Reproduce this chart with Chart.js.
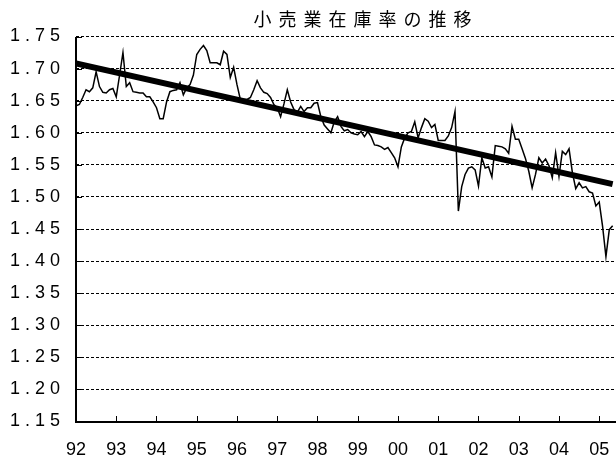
<!DOCTYPE html>
<html>
<head>
<meta charset="utf-8">
<script src="https://cdn.jsdelivr.net/npm/chart.js@4/dist/chart.umd.min.js"></script>
<style>
  html, body { margin: 0; padding: 0; background: #fff; }
  canvas { display: block; }
</style>
</head>
<body>
<canvas id="chart" width="616" height="462"></canvas>
<script>
// 小売業在庫率 (monthly, Jan 1992 - May 2005)
const titleText = '小売業在庫率の推移';
const yearLabels = ['92', '93', '94', '95', '96', '97', '98', '99', '00', '01', '02', '03', '04', '05'];
const yTickValues = [1.15, 1.20, 1.25, 1.30, 1.35, 1.40, 1.45, 1.50, 1.55, 1.60, 1.65, 1.70, 1.75];
const ratio = [
  1.642, 1.644, 1.655, 1.667, 1.664, 1.670, 1.695, 1.672, 1.663, 1.662, 1.667, 1.669, // 92
  1.656, 1.690, 1.725, 1.672, 1.678, 1.664, 1.663, 1.662, 1.662, 1.656, 1.656, 1.648, // 93
  1.639, 1.622, 1.622, 1.648, 1.664, 1.666, 1.667, 1.678, 1.659, 1.670, 1.675, 1.690, // 94
  1.722, 1.730, 1.736, 1.728, 1.709, 1.709, 1.709, 1.706, 1.727, 1.722, 1.686, 1.702, // 95
  1.675, 1.652, 1.652, 1.652, 1.655, 1.667, 1.681, 1.670, 1.663, 1.661, 1.655, 1.644, // 96
  1.639, 1.625, 1.645, 1.667, 1.648, 1.636, 1.632, 1.641, 1.633, 1.639, 1.639, 1.646, // 97
  1.647, 1.625, 1.612, 1.606, 1.600, 1.617, 1.625, 1.610, 1.603, 1.605, 1.600, 1.598, // 98
  1.597, 1.602, 1.594, 1.602, 1.594, 1.581, 1.580, 1.578, 1.574, 1.577, 1.569, 1.561, // 99
  1.547, 1.578, 1.592, 1.600, 1.602, 1.617, 1.592, 1.608, 1.622, 1.618, 1.608, 1.613, // 00
  1.588, 1.588, 1.588, 1.595, 1.608, 1.633, 1.478, 1.516, 1.535, 1.545, 1.547, 1.542, // 01
  1.517, 1.561, 1.545, 1.547, 1.531, 1.580, 1.579, 1.578, 1.575, 1.568, 1.610, 1.590, // 02
  1.590, 1.575, 1.560, 1.540, 1.514, 1.535, 1.561, 1.553, 1.559, 1.549, 1.530, 1.569, // 03
  1.532, 1.571, 1.566, 1.575, 1.538, 1.513, 1.522, 1.514, 1.516, 1.508, 1.506, 1.486, // 04
  1.492, 1.454, 1.407, 1.449, 1.455                                                    // 05
];
// linear trend line, start and end
const trendX = [0, 160];
const trendY = [1.708, 1.520];

const lineData = ratio.map((v, i) => ({ x: i, y: v }));
const trendData = trendX.map((x, i) => ({ x: x, y: trendY[i] }));

// solid axis lines (2px) and short tick marks pointing into the plot
const axisLines = {
  id: 'axisLines',
  afterDraw(chart) {
    const ctx = chart.ctx;
    const a = chart.chartArea;
    const x = chart.scales.x, y = chart.scales.y;
    const left = Math.round(a.left), bottom = Math.round(a.bottom), top = Math.round(a.top);
    ctx.save();
    ctx.fillStyle = '#000';
    ctx.fillRect(left - 1, top, 2, bottom - top + 1);
    ctx.fillRect(left - 1, bottom - 1, Math.round(a.right) - left + 1, 2);
    x.ticks.forEach(t => {
      ctx.fillRect(Math.round(x.getPixelForValue(t.value)), bottom - 6, 1, 6);
    });
    y.ticks.forEach(t => {
      ctx.fillRect(left, Math.round(y.getPixelForValue(t.value)), 6, 1);
    });
    ctx.restore();
  }
};

// spaced-out y labels and the title
const textStyle = {
  id: 'textStyle',
  afterLayout(chart) {
    const s = chart.scales.y;
    if (s._spaced) return;
    const draw = s.drawLabels;
    s.drawLabels = function (area) {
      this.ctx.save();
      this.ctx.letterSpacing = '5px';
      draw.call(this, area);
      this.ctx.restore();
    };
    s._spaced = true;
  },
  afterDraw(chart) {
    const ctx = chart.ctx;
    ctx.save();
    ctx.font = '18px "Noto Sans CJK JP"';
    ctx.letterSpacing = '7px';
    ctx.fillStyle = '#000';
    ctx.textAlign = 'center';
    ctx.textBaseline = 'middle';
    ctx.fillText(titleText, 366, 19);
    ctx.restore();
  }
};

new Chart(document.getElementById('chart'), {
  type: 'line',
  data: {
    datasets: [
      { data: lineData, borderColor: '#000', borderWidth: 1.5, pointRadius: 0, tension: 0, order: 2 },
      { data: trendData, borderColor: '#000', borderWidth: 6, pointRadius: 0, tension: 0, order: 1 }
    ]
  },
  options: {
    responsive: false,
    animation: false,
    layout: { padding: { top: 36.5, left: 0, right: 0, bottom: 0 } },
    plugins: { legend: { display: false }, tooltip: { enabled: false }, title: { display: false } },
    scales: {
      x: {
        type: 'linear',
        min: 0,
        max: 161,
        afterBuildTicks: s => { s.ticks = yearLabels.map((_, k) => ({ value: k * 12 })); },
        afterFit: s => { s.height = 40.5; s.paddingLeft = 0; s.paddingRight = 0; },
        ticks: {
          callback: v => yearLabels[Math.round(v / 12)],
          color: '#000',
          font: { family: '"Liberation Sans", Arial', size: 18 },
          padding: 10,
          maxRotation: 0,
          autoSkip: false
        },
        grid: { display: false },
        border: { display: false }
      },
      y: {
        min: 1.15,
        max: 1.75,
        afterBuildTicks: s => { s.ticks = yTickValues.map(v => ({ value: v })); },
        afterFit: s => { s.width = 76; },
        ticks: {
          callback: v => v.toFixed(2),
          color: '#000',
          font: { family: '"Liberation Sans", Arial', size: 18 },
          padding: 11
        },
        grid: { color: '#000', lineWidth: 1, drawTicks: false },
        border: { display: false, dash: [3, 2] }
      }
    }
  },
  plugins: [axisLines, textStyle]
});
</script>
</body>
</html>
